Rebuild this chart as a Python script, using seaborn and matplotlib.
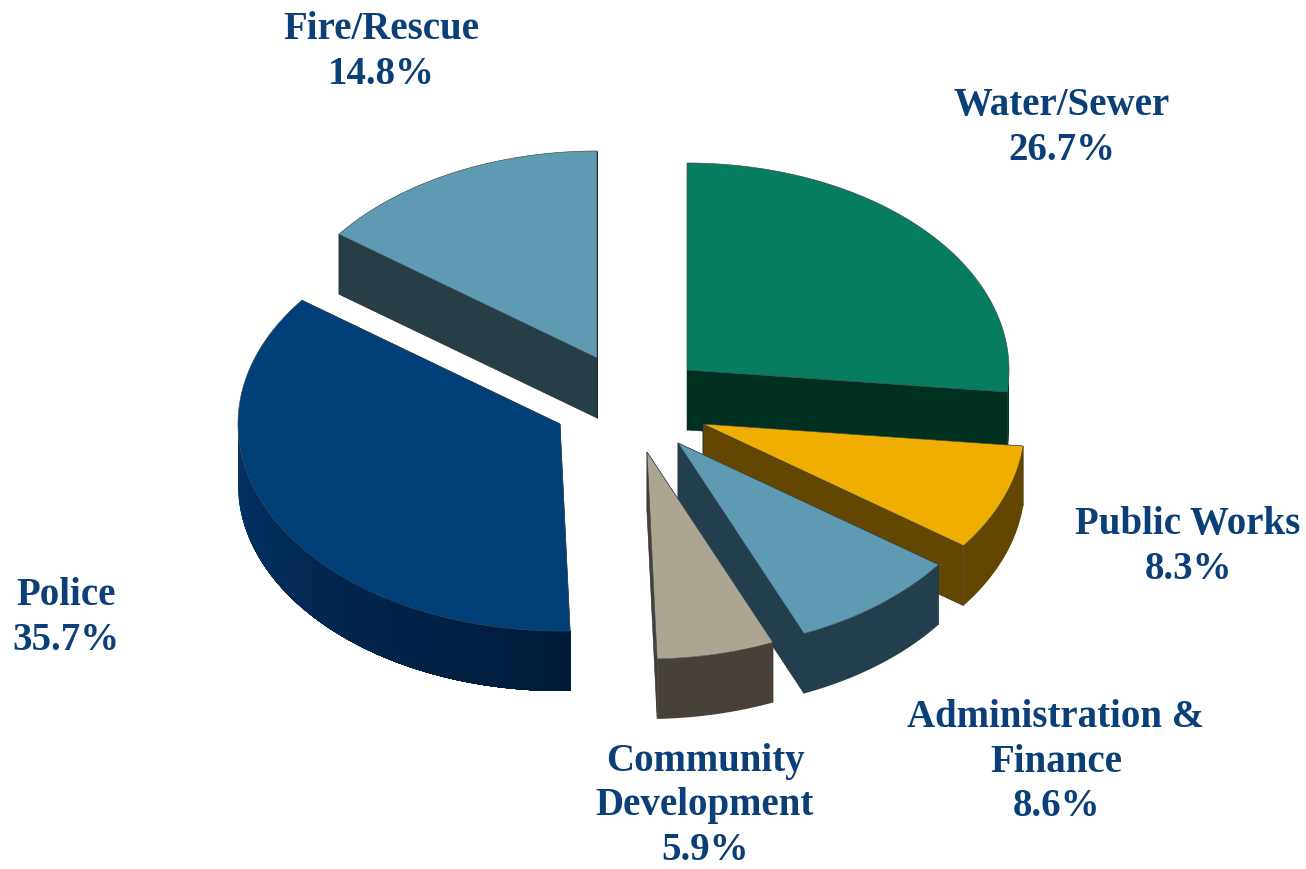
import numpy as np
import matplotlib
matplotlib.use("Agg")
import matplotlib.pyplot as plt
from matplotlib.colors import to_rgb
import seaborn as sns

# Share of the budget per department, clockwise from twelve o'clock
departments = ["Water/Sewer", "Public Works", "Administration &\nFinance",
               "Community\nDevelopment", "Police", "Fire/Rescue"]
shares = [26.7, 8.3, 8.6, 5.9, 35.7, 14.8]

# Colours of the top faces and the darker side walls
top_colors = ["#067D5E", "#EFAE00", "#5F9AB3", "#ABA592", "#003F78", "#5F9AB3"]
wall_light = ["#00301F", "#634700", "#233F4D", "#47413A", "#033366", "#283E47"]
wall_dark = ["#00301F", "#634700", "#233F4D", "#47413A", "#001A38", "#283E47"]

# Layout of the exploded slices, in figure pixels
apex_x = [687, 703, 678, 647, 560, 597]
apex_y = [370, 424, 443, 452, 424, 358]
label_x = [1062, 1188, 1056, 705, 66, 381]
label_y = [128, 547, 762, 806, 618, 52]
RX, RY, DEPTH = 322, 207, 60
TEXT_COLOR = "#0B3F77"

sns.set_theme(style="white")
plt.rcParams["font.family"] = ["Liberation Serif", "DejaVu Serif"]
palette = sns.color_palette(top_colors)

fig = plt.figure(figsize=(13.06, 8.69), dpi=100)
ax = fig.add_axes([0, 0, 1, 1])
ax.set_xlim(0, 1306)
ax.set_ylim(869, 0)
sns.despine(ax=ax, left=True, bottom=True)
ax.set_xticks([])
ax.set_yticks([])


def rim(cx, cy, theta):
    """Point on the tilted ellipse for a clockwise angle from the top."""
    return cx + RX * np.sin(theta), cy - RY * np.cos(theta)


edges = np.radians(np.concatenate([[0], np.cumsum(shares)]) * 3.6)

for i, share in enumerate(shares):
    cx, cy = apex_x[i], apex_y[i]
    a0, a1 = edges[i], edges[i + 1]
    z = 2 + i * 0.1

    # Straight cut faces
    for a in (a0, a1):
        px, py = rim(cx, cy, a)
        ax.fill([cx, px, px, cx], [cy, py, py + DEPTH, cy + DEPTH],
                facecolor=wall_light[i], edgecolor="#20282c", linewidth=0.4, zorder=z)

    # Outer wall: only the lower half of the ellipse faces the viewer.
    # Each pass paints from its angle back to the arc start, so shaded bands
    # overlap instead of leaving seams between neighbouring strips.
    lo, hi = max(a0, np.pi / 2), min(a1, np.pi * 1.5)
    if hi > lo:
        light, dark = np.array(to_rgb(wall_light[i])), np.array(to_rgb(wall_dark[i]))
        steps = 40 if wall_light[i] != wall_dark[i] else 1
        for stop in np.linspace(hi, lo, steps, endpoint=False):
            thetas = np.linspace(lo, stop, 120)
            xs, ys = rim(cx, cy, thetas)
            mix = float(np.clip((hi - stop) / (hi - lo), 0, 1))
            shade = light + (dark - light) * mix
            ax.fill(np.r_[xs, xs[::-1]], np.r_[ys, ys[::-1] + DEPTH],
                    facecolor=tuple(shade), edgecolor="none", linewidth=0, zorder=z + 0.01)

    # Top face
    xs, ys = rim(cx, cy, np.linspace(a0, a1, 200))
    ax.fill(np.r_[cx, xs], np.r_[cy, ys], facecolor=palette[i],
            edgecolor="#3c4a50", linewidth=0.45, joinstyle="round", zorder=z + 0.02)

    ax.text(label_x[i], label_y[i], f"{departments[i]}\n{share:.1f}%",
            ha="center", va="center", color=TEXT_COLOR, fontsize=28,
            fontweight="bold", linespacing=1.26, zorder=5)

fig.savefig("out.png", dpi=100, facecolor="white")
